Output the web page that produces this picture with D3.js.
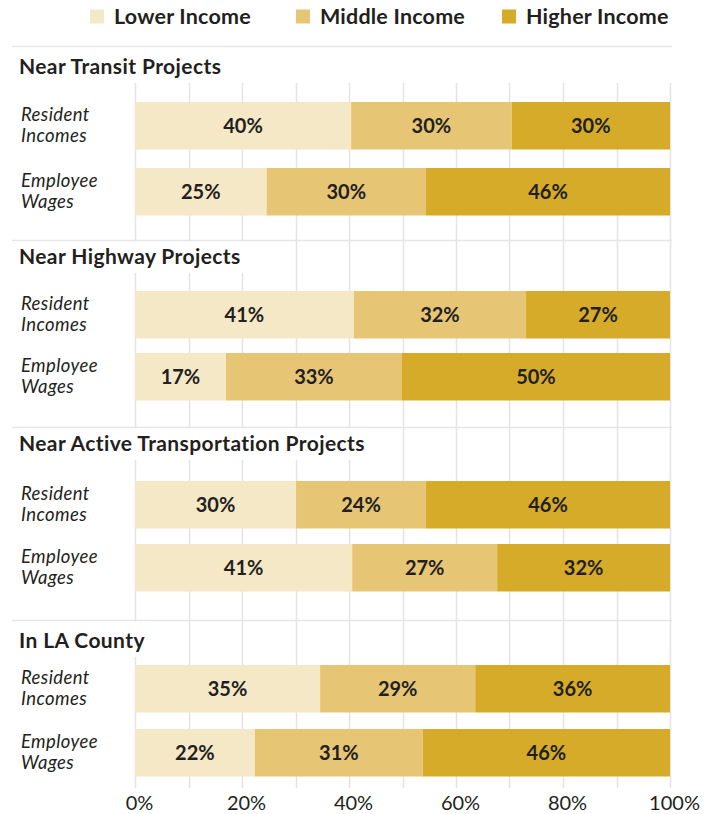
<!DOCTYPE html>
<html>
<head>
<meta charset="utf-8">
<script src="https://cdn.jsdelivr.net/npm/d3@7"></script>
<style>
  html, body { margin: 0; padding: 0; background: #fff; }
  svg { display: block; font-family: Lato, "Open Sans", sans-serif; }
</style>
</head>
<body>
<svg id="chart" width="716" height="814"></svg>
<script>
// Income distribution shares (%) by project type
const seriesNames = ["Lower Income", "Middle Income", "Higher Income"];
const groupNames = [
  "Near Transit Projects",
  "Near Highway Projects",
  "Near Active Transportation Projects",
  "In LA County"
];
const rowNames = ["Resident Incomes", "Employee Wages"];
const rowLines = [["Resident", "Incomes"], ["Employee", "Wages"]];

// [resident, employee] share for each group
const lowerIncome  = [[40.4, 24.6], [40.9, 17.0], [30.1, 40.6], [34.6, 22.4]];
const middleIncome = [[30.0, 29.8], [32.2, 32.9], [24.3, 27.1], [29.0, 31.4]];
const higherIncome = [[29.6, 45.6], [26.9, 50.1], [45.6, 32.3], [36.4, 46.2]];

const xTicks = [0, 20, 40, 60, 80, 100];
const gridTicks = d3.range(0, 101, 10);

const colors = ["#f5e8c7", "#e6c574", "#d5ab29"];
const ink = "#231f20";

// Panel layout (separator, title baseline, first bar top, row step)
const panelLayout = [
  { sep: 46.5,  title: 74,  top: 102, step: 66 },
  { sep: 240.5, title: 264, top: 291, step: 62 },
  { sep: 427.5, title: 451, top: 481, step: 63 },
  { sep: 620.5, title: 648, top: 665, step: 64 }
];
const barHeight = 47.5;
const legendX = [90, 296, 502];

const svg = d3.select("#chart");
const x = d3.scaleLinear().domain([0, 100]).range([135, 670]);

// Vertical gridlines
svg.append("g")
  .selectAll("line")
  .data(gridTicks)
  .join("line")
  .attr("x1", d => Math.round(x(d)) + 0.5)
  .attr("x2", d => Math.round(x(d)) + 0.5)
  .attr("y1", 83)
  .attr("y2", 788)
  .attr("stroke", "#e4e4e4")
  .attr("stroke-width", 1.5);

// Legend
const legend = svg.append("g");
seriesNames.forEach((name, i) => {
  legend.append("rect")
    .attr("x", legendX[i]).attr("y", 9.5)
    .attr("width", 14).attr("height", 14)
    .attr("fill", colors[i]);
  legend.append("text")
    .attr("x", legendX[i] + 24).attr("y", 24)
    .attr("fill", ink)
    .attr("font-size", 21.5)
    .attr("font-weight", 700)
    .attr("letter-spacing", 0.2)
    .text(name);
});

const seriesValues = [lowerIncome, middleIncome, higherIncome];
const fmt = d3.format(".0f");

groupNames.forEach((groupName, gi) => {
  const L = panelLayout[gi];
  const g = svg.append("g");

  // separator line
  g.append("line")
    .attr("x1", 12).attr("x2", 672)
    .attr("y1", L.sep).attr("y2", L.sep)
    .attr("stroke", "#e6e6e6")
    .attr("stroke-width", 1.5);

  // title with a white backing over the gridlines
  const title = g.append("text")
    .attr("x", 19).attr("y", L.title)
    .attr("fill", ink)
    .attr("font-size", 21)
    .attr("font-weight", 700)
    .attr("letter-spacing", 0.4)
    .text(groupName);
  const bb = title.node().getBBox();
  g.insert("rect", "text")
    .attr("x", 12).attr("y", L.sep + 1)
    .attr("width", bb.x + bb.width + 4 - 12)
    .attr("height", L.title + 9 - L.sep - 1)
    .attr("fill", "#fff");

  const y = d3.scaleBand()
    .domain(rowNames)
    .range([L.top, L.top + L.step + barHeight])
    .paddingInner((L.step - barHeight) / L.step)
    .paddingOuter(0);

  rowNames.forEach((rowName, ri) => {
    const shares = seriesValues.map(s => s[gi][ri]);
    const stacked = [];
    let acc = 0;
    shares.forEach((v, si) => {
      stacked.push({ si, v, x0: acc, x1: acc + v });
      acc += v;
    });

    const row = g.append("g");
    const cy = y(rowName) + y.bandwidth() / 2;

    row.selectAll("rect")
      .data(stacked)
      .join("rect")
      .attr("x", d => x(d.x0))
      .attr("width", d => x(d.x1) - x(d.x0))
      .attr("y", y(rowName))
      .attr("height", y.bandwidth())
      .attr("fill", d => colors[d.si]);

    row.selectAll("text.val")
      .data(stacked)
      .join("text")
      .attr("class", "val")
      .attr("x", d => (x(d.x0) + x(d.x1)) / 2)
      .attr("y", cy + 7)
      .attr("text-anchor", "middle")
      .attr("fill", ink)
      .attr("font-size", 20)
      .attr("font-weight", 700)
      .text(d => fmt(d.v) + "%");

    // row label, two italic lines
    const lab = row.append("text")
      .attr("x", 21)
      .attr("fill", ink)
      .attr("font-size", 18.5)
      .attr("font-style", "italic")
      .attr("letter-spacing", 0.4);
    rowLines[ri].forEach((line, li) => {
      lab.append("tspan")
        .attr("x", 21)
        .attr("y", cy - 5 + li * 21)
        .text(line);
    });
  });
});

// Bottom axis
const axis = svg.append("g")
  .attr("transform", "translate(0,788)")
  .call(d3.axisBottom(x).tickValues(xTicks).tickFormat(d => d + "%").tickSize(0).tickPadding(8));
axis.select(".domain").remove();
axis.selectAll("text")
  .attr("font-family", "Lato, sans-serif")
  .attr("font-size", 20)
  .attr("fill", ink)
  .attr("dx", 4);
</script>
</body>
</html>
